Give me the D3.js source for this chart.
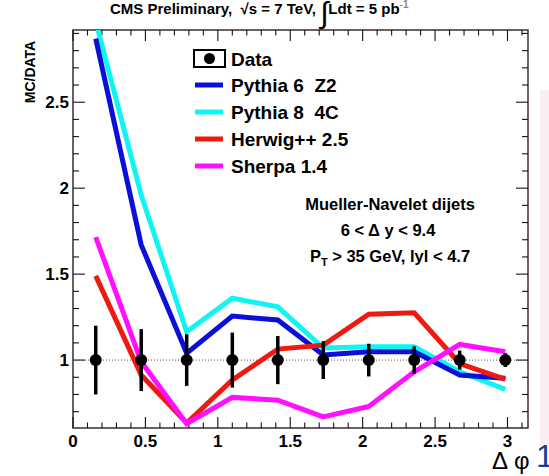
<!DOCTYPE html>
<html><head><meta charset="utf-8">
<script src="https://cdn.jsdelivr.net/npm/d3@7"></script>
<style>body{margin:0;background:#fff;}svg{display:block;font-family:"Liberation Sans",Arial,sans-serif;}text{white-space:pre;}</style>
</head><body>
<svg id="c" width="549" height="476"></svg>
<script>
const binCenters = [0.157, 0.471, 0.785, 1.100, 1.414, 1.728, 2.042, 2.356, 2.670, 2.985];
const dataValues = [1, 1, 1, 1, 1, 1, 1, 1, 1, 1];
const dataErrors = [0.20, 0.18, 0.15, 0.16, 0.14, 0.11, 0.095, 0.08, 0.055, 0.04];
const pythia6 = [2.87, 1.67, 1.04, 1.256, 1.233, 1.03, 1.048, 1.048, 0.913, 0.895];
const pythia8 = [2.97, 1.96, 1.165, 1.36, 1.31, 1.07, 1.077, 1.077, 0.932, 0.83];
const herwig = [1.49, 0.913, 0.634, 0.884, 1.064, 1.087, 1.267, 1.275, 0.98, 0.888];
const sherpa = [1.715, 0.99, 0.63, 0.783, 0.767, 0.67, 0.73, 0.932, 1.091, 1.048];
const seriesNames = ["Pythia 6  Z2", "Pythia 8  4C", "Herwig++ 2.5", "Sherpa 1.4"];
const seriesColors = ["#0a10d8", "#10f4f4", "#ee1a10", "#ff10ff"];
const xTicks = [0, 0.5, 1, 1.5, 2, 2.5, 3];
const yTicks = [1, 1.5, 2, 2.5];

const svg = d3.select("#c");
const L = 73, R = 528, T = 30, B = 428;
const x = d3.scaleLinear().domain([0, Math.PI]).range([L, R]);
const y = d3.scaleLinear().domain([0.605, 2.92]).range([B, T]);

// pale side panel
svg.append("rect").attr("x", 540).attr("y", 90).attr("width", 9).attr("height", 355).attr("fill", "#f8eef3");

svg.append("defs").append("clipPath").attr("id", "clip")
  .append("rect").attr("x", L).attr("y", T).attr("width", R - L).attr("height", B - T);

// frame
svg.append("rect").attr("x", L).attr("y", T).attr("width", R - L).attr("height", B - T)
  .attr("fill", "none").attr("stroke", "#1a1010").attr("stroke-width", 1.3);

// ticks
const xMinor = d3.range(0, 3.11, 0.1);
const yMinor = d3.range(0.7, 2.91, 0.1);
const tg = svg.append("g").attr("stroke", "#1a1010").attr("stroke-width", 1.1);
xMinor.forEach(v => {
  const major = Math.abs(v * 2 - Math.round(v * 2)) < 1e-6;
  const len = major ? 11 : 5.5;
  tg.append("line").attr("x1", x(v)).attr("x2", x(v)).attr("y1", B).attr("y2", B - len);
  tg.append("line").attr("x1", x(v)).attr("x2", x(v)).attr("y1", T).attr("y2", T + len);
});
yMinor.forEach(v => {
  const major = Math.abs(v * 2 - Math.round(v * 2)) < 1e-6;
  const len = major ? 12 : 6;
  tg.append("line").attr("x1", L).attr("x2", L + len).attr("y1", y(v)).attr("y2", y(v));
  tg.append("line").attr("x1", R).attr("x2", R - len).attr("y1", y(v)).attr("y2", y(v));
});

// tick labels
svg.append("g").selectAll("text").data(xTicks).join("text")
  .attr("x", d => x(d)).attr("y", 447).attr("text-anchor", "middle")
  .attr("font-size", 17).attr("font-weight", "bold").text(d => d);
svg.append("g").selectAll("text").data(yTicks).join("text")
  .attr("x", 69).attr("y", d => y(d) + 6).attr("text-anchor", "end")
  .attr("font-size", 17).attr("font-weight", "bold").text(d => d);

// y label
svg.append("text").attr("transform", "translate(35,72) rotate(-90)").attr("text-anchor", "middle")
  .attr("font-size", 14).attr("font-weight", "bold").text("MC/DATA");

// x label
svg.append("text").attr("x", 492).attr("y", 469).attr("font-size", 24).text("Δ");
svg.append("text").attr("x", 514).attr("y", 469).attr("font-size", 24).text("φ");
svg.append("text").attr("x", 536).attr("y", 467).attr("font-size", 32).attr("fill", "#1b3a9a").text("1");

// title
const title = svg.append("text").attr("x", 110).attr("y", 14).attr("font-size", 15).attr("font-weight", "bold");
title.append("tspan").text("CMS Preliminary,  \u221As = 7 TeV, ");
title.append("tspan").attr("font-size", 30).attr("font-weight", "normal").attr("dy", 9).text("\u222B");
title.append("tspan").attr("dy", -9).text("Ldt = 5 pb");
title.append("tspan").attr("font-size", 10).attr("dy", -6).attr("fill", "#888").text("-1");

// dotted line at 1
svg.append("line").attr("x1", L).attr("x2", R).attr("y1", y(1)).attr("y2", y(1))
  .attr("stroke", "#555").attr("stroke-width", 1).attr("stroke-dasharray", "1,2");

// MC lines
const lineGen = d3.line().x((d, i) => x(binCenters[i])).y(d => y(d));
const allSeries = [pythia6, pythia8, herwig, sherpa];
const drawOrder = [1, 0, 2, 3];
const pg = svg.append("g").attr("clip-path", "url(#clip)");
drawOrder.forEach(k => {
  pg.append("path").datum(allSeries[k]).attr("d", lineGen).attr("fill", "none")
    .attr("stroke", seriesColors[k]).attr("stroke-width", 5).attr("stroke-linejoin", "miter");
});

// data
const dg = svg.append("g");
binCenters.forEach((c, i) => {
  dg.append("line").attr("x1", x(c)).attr("x2", x(c))
    .attr("y1", y(dataValues[i] - dataErrors[i])).attr("y2", y(dataValues[i] + dataErrors[i]))
    .attr("stroke", "#000").attr("stroke-width", 3.5);
  dg.append("circle").attr("cx", x(c)).attr("cy", y(dataValues[i])).attr("r", 6).attr("fill", "#000");
});

// legend
const lg = svg.append("g");
lg.append("rect").attr("x", 194).attr("y", 50).attr("width", 31).attr("height", 17)
  .attr("fill", "#fff").attr("stroke", "#000").attr("stroke-width", 2);
lg.append("circle").attr("cx", 209.5).attr("cy", 58.5).attr("r", 5.5).attr("fill", "#000");
lg.append("text").attr("x", 231).attr("y", 66).attr("font-size", 19).attr("font-weight", "bold").text("Data");
seriesNames.forEach((n, k) => {
  const yy = 85 + k * 27;
  lg.append("line").attr("x1", 195).attr("x2", 223).attr("y1", yy).attr("y2", yy)
    .attr("stroke", seriesColors[k]).attr("stroke-width", 5);
  lg.append("text").attr("x", 231).attr("y", yy + 7).attr("font-size", 19).attr("font-weight", "bold").text(n);
});

// annotation
const ag = svg.append("g").attr("font-size", 16.5).attr("font-weight", "bold").attr("text-anchor", "middle");
ag.append("text").attr("x", 390).attr("y", 210).text("Mueller-Navelet dijets");
ag.append("text").attr("x", 388).attr("y", 236).text("6 < \u0394 y < 9.4");
const pt = ag.append("text").attr("x", 390).attr("y", 262);
pt.append("tspan").text("P");
pt.append("tspan").attr("font-size", 11).attr("dy", 4).text("T");
pt.append("tspan").attr("dy", -4).text(" > 35 GeV, lyl < 4.7");
</script>
</body></html>
